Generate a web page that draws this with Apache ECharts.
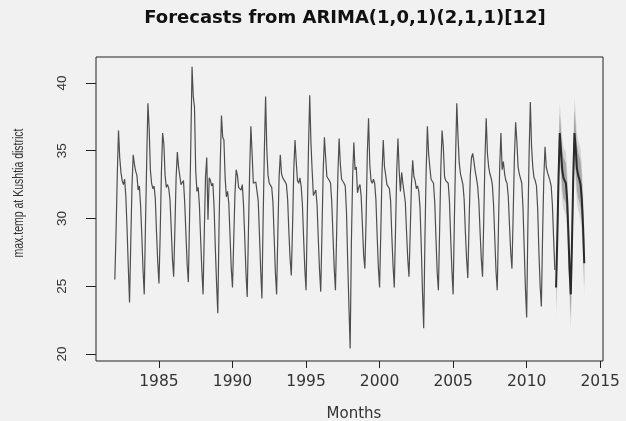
<!DOCTYPE html>
<html>
<head>
<meta charset="utf-8">
<script src="https://cdn.jsdelivr.net/npm/echarts@6/dist/echarts.min.js"></script>
<style>
html,body{margin:0;padding:0;background:#f1f1f1;}
#chart{width:626px;height:421px;}
</style>
</head>
<body>
<div id="chart"></div>
<script>
// ---- data (monthly max temperature, Jan..Dec) ----
const startYear = 1982;
const y1982 = [25.5, 29.0, 33.2, 36.5, 34.5, 33.4, 32.8, 32.5, 32.9, 31.6, 29.2, 26.4];
const y1983 = [23.8, 28.2, 32.4, 34.7, 34.0, 33.5, 33.2, 32.1, 32.4, 31.0, 28.8, 26.2];
const y1984 = [24.4, 29.5, 34.2, 38.5, 36.7, 33.6, 32.6, 32.2, 32.4, 31.5, 29.0, 26.8];
const y1985 = [25.2, 28.8, 33.4, 36.3, 35.5, 33.2, 32.3, 32.5, 32.2, 31.4, 29.3, 27.0];
const y1986 = [25.7, 29.2, 33.0, 34.9, 33.8, 33.7, 32.5, 32.4, 32.8, 31.2, 28.9, 26.6];
const y1987 = [25.3, 30.2, 35.5, 41.2, 39.0, 38.2, 33.5, 32.0, 32.3, 31.0, 28.5, 26.2];
const y1988 = [24.4, 29.0, 33.1, 34.5, 29.9, 33.0, 32.8, 32.4, 32.6, 30.8, 27.8, 25.2];
const y1989 = [23.0, 29.3, 34.0, 37.6, 36.0, 35.8, 33.0, 31.6, 32.0, 31.1, 28.7, 26.3];
const y1990 = [24.9, 28.4, 31.8, 33.6, 33.2, 32.3, 32.4, 32.1, 32.5, 31.0, 28.6, 26.0];
const y1991 = [24.2, 29.0, 33.5, 36.8, 34.8, 32.6, 32.5, 32.7, 32.8, 31.3, 28.8, 26.2];
const y1992 = [24.1, 30.0, 35.0, 39.0, 35.1, 33.2, 32.6, 32.6, 32.3, 31.2, 28.6, 26.0];
const y1993 = [24.4, 28.9, 33.0, 34.7, 33.3, 33.0, 32.9, 32.7, 32.5, 31.4, 29.0, 27.0];
const y1994 = [25.8, 29.4, 33.6, 35.8, 34.2, 32.8, 32.6, 33.0, 32.4, 31.1, 28.6, 26.3];
const y1995 = [24.7, 30.0, 35.2, 39.1, 35.6, 33.5, 31.7, 31.9, 32.1, 31.0, 28.5, 26.2];
const y1996 = [24.6, 29.0, 33.5, 36.0, 34.5, 33.1, 33.0, 32.8, 32.6, 31.2, 28.7, 26.3];
const y1997 = [24.7, 29.1, 33.3, 35.9, 34.0, 32.9, 33.0, 32.6, 32.4, 30.5, 26.8, 23.5];
const y1998 = [20.4, 28.2, 33.0, 35.6, 33.6, 33.8, 31.9, 32.3, 32.5, 31.6, 29.5, 27.3];
const y1999 = [26.3, 30.0, 34.8, 37.4, 34.0, 32.8, 32.6, 32.9, 32.6, 31.4, 28.8, 26.4];
const y2000 = [24.9, 29.0, 33.4, 35.8, 33.8, 33.2, 32.5, 32.6, 32.2, 31.3, 28.7, 26.5];
const y2001 = [24.9, 29.1, 33.5, 35.9, 33.5, 32.0, 33.4, 32.6, 32.5, 31.2, 29.0, 27.0];
const y2002 = [25.7, 29.0, 32.5, 34.3, 33.1, 32.8, 32.2, 32.4, 32.0, 30.8, 28.0, 24.6];
const y2003 = [21.9, 28.5, 33.5, 36.8, 34.8, 33.8, 32.9, 33.0, 32.6, 31.2, 28.6, 26.0];
const y2004 = [24.7, 29.2, 33.8, 36.5, 35.3, 33.1, 32.8, 32.9, 32.6, 31.3, 28.6, 26.2];
const y2005 = [24.4, 29.8, 34.5, 38.5, 36.0, 34.1, 33.3, 32.9, 32.5, 31.4, 29.0, 27.0];
const y2006 = [25.6, 29.6, 33.2, 34.5, 34.8, 34.2, 33.5, 33.0, 32.4, 31.2, 29.0, 27.0];
const y2007 = [25.7, 30.0, 34.5, 37.4, 34.8, 33.8, 33.3, 33.0, 32.5, 31.0, 28.5, 26.1];
const y2008 = [24.7, 29.4, 33.8, 36.3, 33.6, 34.2, 33.3, 32.8, 32.6, 31.6, 29.5, 27.5];
const y2009 = [26.3, 30.3, 34.5, 37.1, 35.7, 33.8, 33.3, 33.2, 32.6, 30.8, 27.8, 24.8];
const y2010 = [22.7, 29.5, 34.8, 38.6, 35.3, 33.8, 33.0, 32.8, 32.4, 30.7, 27.5, 25.0];
const y2011 = [23.5, 28.8, 33.0, 35.3, 33.8, 33.4, 33.4, 32.8, 32.4, 31.0, 28.5, 26.2];
const history = [y1982,y1983,y1984,y1985,y1986,y1987,y1988,y1989,y1990,y1991,
                 y1992,y1993,y1994,y1995,y1996,y1997,y1998,y1999,y2000,y2001,
                 y2002,y2003,y2004,y2005,y2006,y2007,y2008,y2009,y2010,y2011];

// forecasts 2012-2013 (point, 80% and 95% limits)
const fcStartYear = 2012;
const fcMean = [24.9, 28.6, 33.0, 36.3, 35.0, 33.6, 33.0, 32.8, 32.6, 31.4, 29.0, 26.2,
                24.4, 28.3, 33.0, 36.3, 35.2, 33.7, 33.2, 32.9, 32.5, 31.4, 29.4, 26.7];
const fcHi80 = [26.4, 30.1, 34.5, 37.8, 36.5, 35.1, 34.5, 34.3, 34.1, 32.9, 30.5, 27.7,
                26.1, 30.0, 34.7, 38.0, 36.9, 35.4, 34.9, 34.6, 34.2, 33.1, 31.1, 28.4];
const fcLo80 = [23.4, 27.1, 31.5, 34.8, 33.5, 32.1, 31.5, 31.3, 31.1, 29.9, 27.5, 24.7,
                22.7, 26.6, 31.3, 34.6, 33.5, 32.0, 31.5, 31.2, 30.8, 29.7, 27.7, 25.0];
const fcHi95 = [27.2, 30.9, 35.3, 38.6, 37.3, 35.9, 35.3, 35.1, 34.9, 33.7, 31.3, 28.5,
                27.0, 30.9, 35.6, 38.9, 37.8, 36.3, 35.8, 35.5, 35.1, 34.0, 32.0, 29.3];
const fcLo95 = [22.6, 26.3, 30.7, 34.0, 32.7, 31.3, 30.7, 30.5, 30.3, 29.1, 26.7, 23.9,
                21.8, 25.7, 30.4, 33.7, 32.6, 31.1, 30.6, 30.3, 29.9, 28.8, 26.8, 24.1];

const xTicks = [1985, 1990, 1995, 2000, 2005, 2010, 2015];
const yTicks = [20, 25, 30, 35, 40];
const titleText = 'Forecasts from ARIMA(1,0,1)(2,1,1)[12]';
const xTitle = 'Months';
const yTitle = 'max.temp at Kushtia district';

// ---- build series data ----
const histData = [];
history.forEach((yr, yi) => yr.forEach((v, m) => histData.push([startYear + yi + m / 12, v])));
const fcT = fcMean.map((_, i) => fcStartYear + i / 12);
const fcData = fcMean.map((v, i) => [fcT[i], v]);

function band(lo, hi, color) {
  return {
    type: 'custom',
    silent: true,
    z: 1,
    data: [[fcT[0], fcMean[0]]],
    renderItem: function (params, api) {
      const pts = [];
      for (let i = 0; i < hi.length; i++) pts.push(api.coord([fcT[i], hi[i]]));
      for (let i = lo.length - 1; i >= 0; i--) pts.push(api.coord([fcT[i], lo[i]]));
      return { type: 'polygon', shape: { points: pts }, style: { fill: color } };
    }
  };
}

const chart = echarts.init(document.getElementById('chart'), null, { renderer: 'canvas' });
chart.setOption({
  backgroundColor: '#f1f1f1',
  animation: false,
  grid: { left: 96, right: 23, top: 57, bottom: 60, show: true, borderColor: '#222', borderWidth: 1, backgroundColor: 'transparent' },
  xAxis: {
    type: 'value', min: 1980.72, max: 2015.19,
    splitLine: { show: false },
    axisLine: { show: false },
    axisTick: { show: true, length: 7, lineStyle: { color: '#222' }, customValues: xTicks },
    axisLabel: { customValues: xTicks, formatter: v => String(v), margin: 13, color: '#333', fontSize: 15.5, fontFamily: 'DejaVu Sans' }
  },
  yAxis: {
    type: 'value', min: 19.48, max: 41.92,
    splitLine: { show: false },
    axisLine: { show: false },
    axisTick: { show: true, length: 10, lineStyle: { color: '#222' }, customValues: yTicks },
    axisLabel: { customValues: yTicks, formatter: v => String(v), rotate: 90, margin: 27, color: '#333', fontSize: 13.5, fontFamily: 'Liberation Sans' }
  },
  graphic: [
    { type: 'text', x: 345, y: 18, style: { text: titleText, fontSize: 18, fontWeight: 'bold', fontFamily: 'DejaVu Sans', fill: '#111', align: 'center', verticalAlign: 'middle' } },
    { type: 'text', x: 354, y: 414, style: { text: xTitle, fontSize: 15, fontFamily: 'DejaVu Sans', fill: '#333', align: 'center', verticalAlign: 'middle' } },
    { type: 'text', x: 19, y: 193, rotation: Math.PI / 2, scaleX: 0.74, scaleY: 1, style: { text: yTitle, fontSize: 14.2, fontFamily: 'Liberation Sans', fill: '#333', align: 'center', verticalAlign: 'middle' } }
  ],
  series: [
    band(fcLo95, fcHi95, '#d5d5d5'),
    band(fcLo80, fcHi80, '#a6a6a6'),
    { type: 'line', data: histData, showSymbol: false, symbol: 'none', lineStyle: { color: '#4e4e4e', width: 1.2 }, z: 3 },
    { type: 'line', data: fcData, showSymbol: false, symbol: 'none', lineStyle: { color: '#2a2a2a', width: 2 }, z: 4 }
  ]
});
</script>
</body>
</html>
